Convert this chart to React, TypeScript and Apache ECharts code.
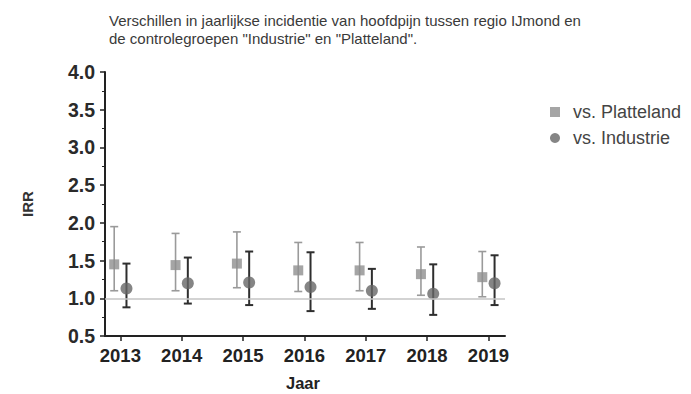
import React, { useEffect, useRef } from "react";
import * as echarts from "echarts";

const years = [2013, 2014, 2015, 2016, 2017, 2018, 2019];

// vs. Platteland: IRR with 95% CI
const plattelandIRR = [1.45, 1.44, 1.46, 1.37, 1.37, 1.32, 1.28];
const plattelandLow = [1.1, 1.1, 1.14, 1.09, 1.1, 1.04, 1.02];
const plattelandHigh = [1.95, 1.86, 1.88, 1.74, 1.74, 1.68, 1.62];

// vs. Industrie: IRR with 95% CI
const industrieIRR = [1.13, 1.2, 1.21, 1.15, 1.1, 1.06, 1.2];
const industrieLow = [0.88, 0.93, 0.91, 0.83, 0.86, 0.78, 0.91];
const industrieHigh = [1.46, 1.54, 1.62, 1.61, 1.39, 1.45, 1.57];

const yTicks = [0.5, 1.0, 1.5, 2.0, 2.5, 3.0, 3.5, 4.0];

const FONT = "'Liberation Sans', Arial, Helvetica, sans-serif";
const OFFSET = 0.1;

function errorBarSeries(
  name: string,
  low: number[],
  high: number[],
  shift: number,
  color: string,
  width: number
) {
  return {
    type: "custom",
    name: name + "-ci",
    silent: true,
    data: years.map((y, i) => [y + shift, low[i], high[i]]),
    encode: { x: 0, y: [1, 2] },
    renderItem: (params: any, api: any) => {
      const x = api.value(0);
      const lo = api.coord([x, api.value(1)]);
      const hi = api.coord([x, api.value(2)]);
      const cap = 4;
      const style = { stroke: color, lineWidth: width, fill: "none" };
      return {
        type: "group",
        children: [
          { type: "line", shape: { x1: lo[0], y1: lo[1], x2: hi[0], y2: hi[1] }, style },
          { type: "line", shape: { x1: hi[0] - cap, y1: hi[1], x2: hi[0] + cap, y2: hi[1] }, style },
          { type: "line", shape: { x1: lo[0] - cap, y1: lo[1], x2: lo[0] + cap, y2: lo[1] }, style },
        ],
      };
    },
    z: 3,
  };
}

export default function App() {
  const ref = useRef<HTMLDivElement>(null);

  useEffect(() => {
    if (!ref.current) return;
    const chart = echarts.init(ref.current, null, { renderer: "svg" });
    chart.setOption({
      animation: false,
      backgroundColor: "#ffffff",
      textStyle: { fontFamily: FONT },
      title: {
        text:
          "Verschillen in jaarlijkse incidentie van hoofdpijn tussen regio IJmond en\nde controlegroepen \"Industrie\" en \"Platteland\".",
        left: 104,
        top: 6,
        textStyle: {
          fontFamily: FONT,
          fontSize: 15,
          fontWeight: "normal",
          color: "#3a3a3a",
          lineHeight: 18,
        },
      },
      legend: {
        orient: "vertical",
        left: 545,
        top: 98,
        itemWidth: 10,
        itemHeight: 10,
        itemGap: 8,
        textStyle: { fontFamily: FONT, fontSize: 18, color: "#444", padding: [0, 0, 0, 8] },
        data: [
          { name: "vs. Platteland", icon: "rect", itemStyle: { color: "#8f8f8f" } },
          { name: "vs. Industrie", icon: "circle", itemStyle: { color: "#666666" } },
        ],
      },
      // axis title under the year labels
      graphic: [
        {
          type: "text",
          left: 286,
          top: 374,
          style: {
            text: "Jaar",
            fontFamily: FONT,
            fontSize: 16.5,
            fontWeight: "bold",
            fill: "#222",
          },
        },
      ],
      grid: { left: 105, top: 72, right: 186, bottom: 58, outerBoundsMode: "none", containLabel: false },
      xAxis: {
        type: "value",
        min: 2012.75,
        max: 2019.27,
        axisLine: { show: true, lineStyle: { color: "#222", width: 2 } },
        axisTick: { show: true, length: 5, lineStyle: { color: "#222", width: 1.5 }, customValues: years },
        axisLabel: {
          customValues: years,
          formatter: (v: number) => String(Math.round(v)),
          fontFamily: FONT,
          fontSize: 18.5,
          fontWeight: "bold",
          color: "#222",
          margin: 10,
        },
        splitLine: { show: false },
      },
      yAxis: {
        type: "value",
        min: 0.5,
        max: 4,
        interval: 0.5,
        name: "IRR",
        nameLocation: "middle",
        nameGap: 70,
        nameRotate: 90,
        nameTextStyle: { fontFamily: FONT, fontSize: 15, fontWeight: "bold", color: "#333" },
        axisLine: { show: true, lineStyle: { color: "#222", width: 2 } },
        axisTick: { show: true, length: 5, lineStyle: { color: "#222", width: 1.5 } },
        minorTick: { show: true, splitNumber: 2, length: 3, lineStyle: { color: "#222", width: 1 } },
        axisLabel: {
          formatter: (v: number) => (yTicks.includes(v) ? v.toFixed(1) : ""),
          fontFamily: FONT,
          fontSize: 19.5,
          fontWeight: "bold",
          color: "#2a2a2a",
          margin: 10,
        },
        splitLine: { show: false },
      },
      series: [
        errorBarSeries("vs. Platteland", plattelandLow, plattelandHigh, -OFFSET, "#9a9a9a", 1.6),
        errorBarSeries("vs. Industrie", industrieLow, industrieHigh, OFFSET, "#2e2e2e", 2),
        {
          name: "vs. Platteland",
          type: "scatter",
          symbol: "rect",
          symbolSize: 10,
          itemStyle: { color: "#8f8f8f" },
          data: years.map((y, i) => [y - OFFSET, plattelandIRR[i]]),
          z: 4,
          markLine: {
            silent: true,
            symbol: "none",
            label: { show: false },
            lineStyle: { color: "#c4c4c4", width: 1.5, type: "solid" },
            data: [{ yAxis: 1 }],
          },
        },
        {
          name: "vs. Industrie",
          type: "scatter",
          symbol: "circle",
          symbolSize: 12,
          itemStyle: { color: "#666666" },
          data: years.map((y, i) => [y + OFFSET, industrieIRR[i]]),
          z: 4,
        },
      ],
    });
    return () => chart.dispose();
  }, []);

  return (
    <div
      ref={ref}
      style={{ position: "fixed", left: 0, top: 0, width: 691, height: 394 }}
    />
  );
}
